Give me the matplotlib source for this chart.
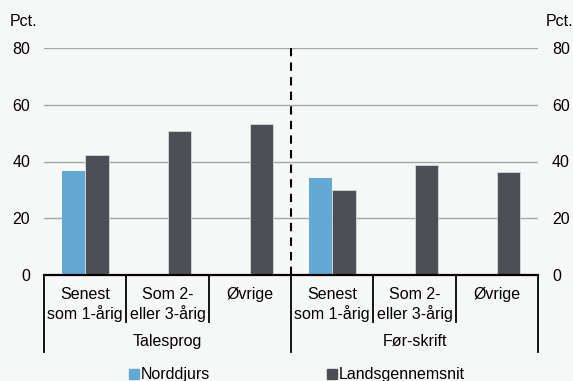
import numpy as np
import matplotlib.pyplot as plt
from matplotlib.lines import Line2D

plt.rcParams['font.family'] = ['Liberation Sans', 'DejaVu Sans']
plt.rcParams['font.size'] = 11.5

# Data
categories = ['Senest\nsom 1-årig', 'Som 2-\neller 3-årig', 'Øvrige',
              'Senest\nsom 1-årig', 'Som 2-\neller 3-årig', 'Øvrige']
groups = ['Talesprog', 'Før-skrift']
norddjurs = [36.6, np.nan, np.nan, 34.2, np.nan, np.nan]
landsgennemsnit = [42.3, 50.9, 53.2, 30.0, 38.8, 36.4]
yticks = [0, 20, 40, 60, 80]

bg = '#F6F7F7'
c_nord = '#62A9D6'
c_land = '#4E4F54'

fig = plt.figure(figsize=(5.73, 3.81), dpi=100, facecolor=bg)
ax = fig.add_axes([44 / 573, 106 / 381, 494 / 573, 227 / 381], facecolor=bg)

x = np.arange(len(categories))
w = 0.285
ax.bar(x - w / 2, norddjurs, width=w, color=c_nord, zorder=3)
ax.bar(x + w / 2, landsgennemsnit, width=w, color=c_land,
       edgecolor='#d8d9da', linewidth=0.6, zorder=3)

ax.set_xlim(-0.5, len(categories) - 0.5)
ax.set_ylim(0, 80)
ax.set_yticks(yticks)
ax.yaxis.grid(True, color='#a6a6a6', linewidth=1, zorder=0)
ax.tick_params(axis='y', length=0, pad=10, labelright=True)
ax.set_xticks([])
for s in ['top', 'left', 'right']:
    ax.spines[s].set_visible(False)
ax.spines['bottom'].set_linewidth(1.6)
ax.spines['bottom'].set_zorder(5)

# divider between groups
ax.plot([2.5, 2.5], [0, 80], color='black', linestyle=(0, (4, 3)),
        linewidth=1.5, zorder=4)

# category separators below axis
trans = ax.get_xaxis_transform()
for b in np.arange(-0.5, len(categories), 1.0):
    outer = b in (-0.5, 2.5, 5.5)
    ax.plot([b, b], [0, -0.339 if outer else -0.207], color='black',
            linewidth=1.3, transform=trans, clip_on=False)
for i, lab in enumerate(categories):
    ax.text(i, -0.053, lab, transform=trans, ha='center', va='top',
            linespacing=1.2)
for g, lab in enumerate(groups):
    ax.text(1 + 3 * g, -0.295, lab, transform=trans, ha='center', va='center')

fig.text(10 / 573, 1 - 22 / 381, 'Pct.', ha='left', va='center')
fig.text(573 / 573, 1 - 22 / 381, 'Pct.', ha='right', va='center')

handles = [Line2D([], [], marker='s', linestyle='none', color=c_nord, markersize=6.5),
           Line2D([], [], marker='s', linestyle='none', color=c_land, markersize=6.5)]
fig.legend(handles, ['Norddjurs', 'Landsgennemsnit'], ncol=2, frameon=False,
           loc='center', bbox_to_anchor=(297 / 573, 1 - 375 / 381),
           handlelength=0.6, handletextpad=0.15, columnspacing=7.3,
           borderpad=0)

plt.savefig('out.png', dpi=100, facecolor=bg)
